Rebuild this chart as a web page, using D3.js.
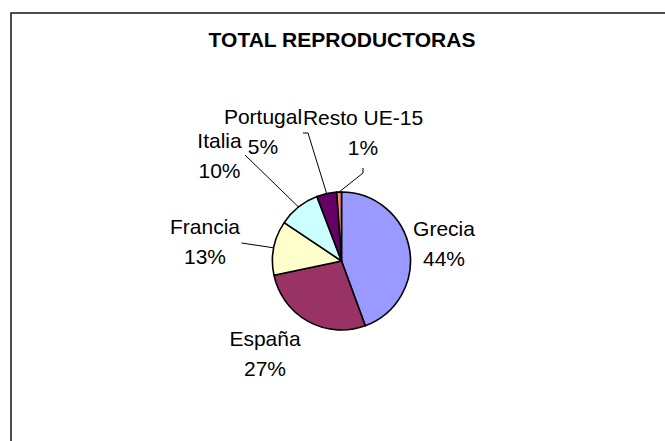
<!DOCTYPE html>
<html>
<head>
<meta charset="utf-8">
<script src="https://cdn.jsdelivr.net/npm/d3@7"></script>
<style>
  body { margin: 0; background: #fff; }
  svg { display: block; font-family: "Liberation Sans", Arial, sans-serif; }
</style>
</head>
<body>
<div id="chart"></div>
<script>
// Data
var paises = ["Grecia", "España", "Francia", "Italia", "Portugal", "Resto UE-15"];
var valores = [44.4, 27.3, 12.7, 9.8, 4.7, 1.1];
var colores = ["#9999FF", "#993366", "#FFFFCC", "#CCFFFF", "#660066", "#FF8080"];

// Where Excel put each label (block centre, relative to the pie centre)
var labelOffsets = [[102.5, -18], [-76.5, 92], [-136.5, -20], [-122, -106], [-78.5, -130], [21.5, -128.5]];
// Leader line starting points (relative to the pie centre), null = no line
var leaderStarts = [null, null, [[-100, -18]], [[-96.5, -106]], [[-38.5, -128], [-33.5, -128]], [[21.5, -93], [21.5, -88]]];

var svgWidth = 665;
var svgHeight = 441;

var svg = d3.select("#chart")
  .append("svg")
  .attr("width", svgWidth)
  .attr("height", svgHeight);

// chart frame (runs off the right and bottom edges)
svg.append("rect")
  .attr("x", 11)
  .attr("y", 13)
  .attr("width", 700)
  .attr("height", 500)
  .attr("fill", "none")
  .attr("stroke", "#222")
  .attr("stroke-width", 1.6);

svg.append("text")
  .attr("x", 342)
  .attr("y", 47)
  .attr("text-anchor", "middle")
  .style("font-size", "21px")
  .style("font-weight", "bold")
  .text("TOTAL REPRODUCTORAS");

var cx = 341.5, cy = 261, radius = 69;

var g = svg.append("g")
  .attr("transform", "translate(" + cx + "," + cy + ")");

var total = d3.sum(valores);
var data = paises.map(function (p, i) { return { pais: p, valor: valores[i], i: i }; });

var pie = d3.pie()
  .sort(null)
  .value(function (d) { return d.valor; });

var arc = d3.arc().innerRadius(0).outerRadius(radius);
var arcs = pie(data);

g.selectAll("path.slice")
  .data(arcs)
  .enter()
  .append("path")
  .attr("class", "slice")
  .attr("d", arc)
  .attr("fill", function (d) { return colores[d.data.i]; })
  .attr("stroke", "#000")
  .attr("stroke-width", 1.6)
  .attr("stroke-linejoin", "round");

// leader lines: from the label to the edge of the slice
var line = d3.line();
arcs.forEach(function (d) {
  var pts = leaderStarts[d.data.i];
  if (!pts) return;
  var mid = (d.startAngle + d.endAngle) / 2;
  var end = [Math.sin(mid) * radius, -Math.cos(mid) * radius];
  g.append("path")
    .attr("d", line(pts.concat([end])))
    .attr("fill", "none")
    .attr("stroke", "#000")
    .attr("stroke-width", 1);
});

var labels = g.selectAll("text.lbl")
  .data(arcs)
  .enter()
  .append("text")
  .attr("class", "lbl")
  .attr("text-anchor", "middle")
  .style("font-size", "21px")
  .attr("transform", function (d) {
    var o = labelOffsets[d.data.i];
    return "translate(" + o[0] + "," + o[1] + ")";
  });

labels.append("tspan")
  .attr("x", 0)
  .attr("y", -7.5)
  .text(function (d) { return d.data.pais; });

labels.append("tspan")
  .attr("x", 0)
  .attr("y", 22.5)
  .text(function (d) { return Math.round(d.data.valor / total * 100) + "%"; });
</script>
</body>
</html>
